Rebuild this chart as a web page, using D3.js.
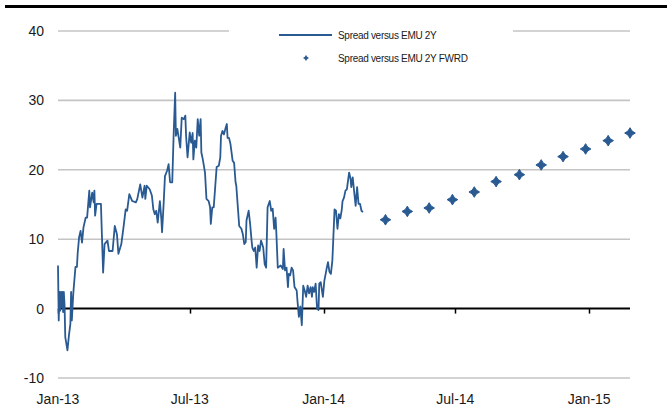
<!DOCTYPE html>
<html>
<head>
<meta charset="utf-8">
<script src="https://cdn.jsdelivr.net/npm/d3@7"></script>
<style>
  html, body { margin: 0; padding: 0; background: #fff; }
  svg { display: block; font-family: "Liberation Sans", Arial, sans-serif; }
</style>
</head>
<body>
<svg id="chart" width="667" height="419"></svg>
<script>
// Spread versus EMU 2Y (daily history) and its forward path (monthly)
const spotDates = [
  "2013-01-01","2013-01-02","2013-01-03","2013-01-04","2013-01-05","2013-01-06","2013-01-07","2013-01-08","2013-01-09","2013-01-10",
  "2013-01-11","2013-01-14","2013-01-16","2013-01-18","2013-01-19","2013-01-20","2013-01-22","2013-01-25","2013-01-27","2013-01-28",
  "2013-01-30","2013-02-01","2013-02-03","2013-02-05","2013-02-08","2013-02-10","2013-02-13","2013-02-14","2013-02-17","2013-02-19",
  "2013-02-20","2013-02-21","2013-02-23","2013-03-01","2013-03-02","2013-03-04","2013-03-06","2013-03-10","2013-03-12","2013-03-17",
  "2013-03-20","2013-03-23","2013-03-25","2013-03-29","2013-04-01","2013-04-04","2013-04-06","2013-04-09","2013-04-13","2013-04-18",
  "2013-04-20","2013-04-24","2013-04-27","2013-04-30","2013-05-01","2013-05-03","2013-05-07","2013-05-10","2013-05-12","2013-05-14",
  "2013-05-16","2013-05-18","2013-05-21","2013-05-23","2013-05-24","2013-05-26","2013-05-28","2013-05-31","2013-06-02","2013-06-04",
  "2013-06-07","2013-06-09","2013-06-11","2013-06-12","2013-06-14","2013-06-18","2013-06-20","2013-06-23","2013-06-25","2013-06-26",
  "2013-06-28","2013-07-01","2013-07-03","2013-07-05","2013-07-06","2013-07-08","2013-07-10","2013-07-12","2013-07-14","2013-07-16",
  "2013-07-17","2013-07-19","2013-07-22","2013-07-24","2013-07-27","2013-07-29","2013-07-30","2013-08-01","2013-08-03","2013-08-05",
  "2013-08-07","2013-08-10","2013-08-12","2013-08-13","2013-08-15","2013-08-17","2013-08-19","2013-08-21","2013-08-22","2013-08-24",
  "2013-08-26","2013-08-29","2013-08-31","2013-09-02","2013-09-03","2013-09-05","2013-09-07","2013-09-10","2013-09-12","2013-09-14",
  "2013-09-16","2013-09-17","2013-09-20","2013-09-22","2013-09-24","2013-09-25","2013-09-27","2013-09-29","2013-10-01","2013-10-03",
  "2013-10-05","2013-10-07","2013-10-10","2013-10-12","2013-10-14","2013-10-16","2013-10-19","2013-10-21","2013-10-23","2013-10-25",
  "2013-10-27","2013-10-28","2013-10-30","2013-11-03","2013-11-06","2013-11-07","2013-11-09","2013-11-11","2013-11-13","2013-11-14",
  "2013-11-16","2013-11-18","2013-11-20","2013-11-22","2013-11-25","2013-11-26","2013-11-28","2013-11-30","2013-12-02","2013-12-04",
  "2013-12-06","2013-12-08","2013-12-10","2013-12-12","2013-12-14","2013-12-16","2013-12-17","2013-12-19","2013-12-21","2013-12-23",
  "2013-12-25","2013-12-26","2013-12-28","2013-12-31","2014-01-02","2014-01-05","2014-01-07","2014-01-09","2014-01-11","2014-01-13",
  "2014-01-16","2014-01-18","2014-01-20","2014-01-22","2014-01-24","2014-01-26","2014-01-27","2014-01-29","2014-01-31","2014-02-02",
  "2014-02-05","2014-02-07","2014-02-08","2014-02-10","2014-02-12","2014-02-14","2014-02-16","2014-02-18","2014-02-20","2014-02-22",
  "2014-02-24"
];
const spotValues = [
  6.2,-1.7,2.4,-0.3,2.4,0.2,2.4,-0.5,2.4,0.5,
  -4.1,-6.0,-3.9,-2.2,2.4,-1.7,2.2,6.0,6.0,7.9,
  10.3,11.2,9.5,11.7,13.1,13.1,17.0,14.6,16.7,15.3,
  17.0,13.4,15.1,15.1,11.7,5.2,9.3,9.8,8.3,8.3,
  11.9,10.7,7.9,9.3,11.7,14.3,14.1,16.5,15.5,15.3,
  15.8,17.9,16.0,17.7,15.8,17.7,17.2,16.3,14.3,13.6,
  14.1,12.4,15.5,12.9,11.0,14.8,19.1,19.9,20.8,18.2,
  18.2,25.4,31.1,24.9,25.9,23.2,27.5,27.3,27.8,24.9,
  21.8,25.4,23.9,25.3,21.5,24.2,23.2,27.3,24.9,27.3,
  22.5,21.5,19.6,15.8,15.5,14.6,12.2,14.6,14.6,17.5,
  20.4,20.6,21.8,24.9,25.6,25.1,25.9,26.6,24.6,24.6,
  23.7,21.3,21.0,18.2,17.7,14.8,11.9,11.5,10.7,9.3,
  9.6,12.7,14.1,12.2,9.8,8.8,8.3,8.8,5.9,9.1,
  8.3,9.8,8.8,6.4,5.9,14.6,15.5,14.1,14.4,11.5,
  13.1,11.0,5.9,6.2,5.7,8.6,5.5,5.9,3.1,5.0,
  4.8,5.9,5.5,3.1,2.6,1.2,-1.2,0.3,-2.4,3.3,
  2.6,1.7,3.3,2.2,3.1,1.7,3.1,2.4,3.6,0.0,
  -0.2,3.6,3.8,1.7,4.0,5.7,6.7,5.3,5.0,6.9,
  14.3,14.1,11.5,13.6,13.0,14.3,15.5,16.0,17.0,17.2,
  19.6,18.7,17.5,18.9,16.8,14.8,17.5,15.1,15.1,14.1,
  13.9
];

const fwdDates = [
  "2014-03-27","2014-04-26","2014-05-26","2014-06-27","2014-07-27","2014-08-26",
  "2014-09-27","2014-10-27","2014-11-26","2014-12-27","2015-01-27","2015-02-26"
];
const fwdValues = [12.8, 14.0, 14.5, 15.7, 16.8, 18.3, 19.3, 20.7, 21.9, 23.0, 24.2, 25.3];

const yTicks = [-10, 0, 10, 20, 30, 40];
const xTickDates = ["2013-01-01","2013-07-01","2014-01-01","2014-07-01","2015-01-01"];
const xTickLabels = ["Jan-13","Jul-13","Jan-14","Jul-14","Jan-15"];

const seriesNames = ["Spread versus EMU 2Y", "Spread versus EMU 2Y FWRD"];
const blue = "#2a5a92";

const parse = d3.utcParse("%Y-%m-%d");
const spot = spotDates.map((d, i) => ({ date: parse(d), value: spotValues[i] }));
const fwd = fwdDates.map((d, i) => ({ date: parse(d), value: fwdValues[i] }));

const svg = d3.select("#chart");

const x = d3.scaleUtc()
  .domain([parse("2013-01-01"), parse("2015-02-26")])
  .range([58, 630]);
const y = d3.scaleLinear().domain([-10, 40]).range([378, 31]);

// heavy rule across the top
svg.append("rect").attr("x", 5).attr("y", 5).attr("width", 662).attr("height", 3).attr("fill", "#000");

// horizontal gridlines
svg.append("g")
  .selectAll("line")
  .data(yTicks.filter(v => v !== 0))
  .join("line")
  .attr("x1", x.range()[0]).attr("x2", x.range()[1])
  .attr("y1", d => y(d)).attr("y2", d => y(d))
  .attr("stroke", "#c4c4c4").attr("stroke-width", 1.6);

// y tick labels
svg.append("g")
  .selectAll("text")
  .data(yTicks)
  .join("text")
  .attr("x", 44)
  .attr("y", d => y(d))
  .attr("dy", "0.35em")
  .attr("text-anchor", "end")
  .attr("font-size", 14)
  .attr("fill", "#1a1a1a")
  .text(d => d);

// zero axis with tick marks below it
const zeroY = y(0);
svg.append("line")
  .attr("x1", x.range()[0]).attr("x2", x.range()[1])
  .attr("y1", zeroY).attr("y2", zeroY)
  .attr("stroke", "#000").attr("stroke-width", 2);

const xTicks = xTickDates.map(parse);
svg.append("g")
  .selectAll("line")
  .data(xTicks)
  .join("line")
  .attr("x1", d => Math.round(x(d)) + 0.5).attr("x2", d => Math.round(x(d)) + 0.5)
  .attr("y1", zeroY).attr("y2", zeroY + 5)
  .attr("stroke", "#000").attr("stroke-width", 1.5);

// x tick labels along the bottom
svg.append("g")
  .selectAll("text")
  .data(xTicks)
  .join("text")
  .attr("x", d => x(d))
  .attr("y", 404)
  .attr("text-anchor", "middle")
  .attr("font-size", 14)
  .attr("fill", "#1a1a1a")
  .text((d, i) => xTickLabels[i]);

// legend box covering the top gridline
const legend = svg.append("g");
legend.append("rect")
  .attr("x", 229).attr("y", 22).attr("width", 284).attr("height", 50)
  .attr("fill", "#fff");

// history line
const line = d3.line().x(d => x(d.date)).y(d => y(d.value));
svg.append("path")
  .datum(spot)
  .attr("d", line)
  .attr("fill", "none")
  .attr("stroke", blue)
  .attr("stroke-width", 1.8)
  .attr("stroke-linejoin", "round");

// forward markers: four-pointed stars
const star = r => {
  const k = r * 0.38;
  return `M0,${-r}L${k},${-k}L${r},0L${k},${k}L0,${r}L${-k},${k}L${-r},0L${-k},${-k}Z`;
};
svg.append("g")
  .selectAll("path")
  .data(fwd)
  .join("path")
  .attr("transform", d => `translate(${x(d.date)},${y(d.value)})`)
  .attr("d", star(5.3))
  .attr("fill", blue)
  .attr("stroke", blue)
  .attr("stroke-width", 1)
  .attr("stroke-linejoin", "round");

// legend entries
legend.append("line")
  .attr("x1", 279).attr("x2", 332).attr("y1", 35).attr("y2", 35)
  .attr("stroke", blue).attr("stroke-width", 1.8);
legend.append("path")
  .attr("transform", "translate(306,58)")
  .attr("d", star(2.4))
  .attr("fill", blue).attr("stroke", blue).attr("stroke-width", 0.8);

legend.selectAll("text.lg")
  .data(seriesNames)
  .join("text")
  .attr("class", "lg")
  .attr("x", 338)
  .attr("y", (d, i) => i === 0 ? 35 : 58)
  .attr("dy", "0.35em")
  .attr("font-size", 10)
  .attr("letter-spacing", -0.3)
  .attr("fill", "#1a1a1a")
  .text(d => d);
</script>
</body>
</html>
